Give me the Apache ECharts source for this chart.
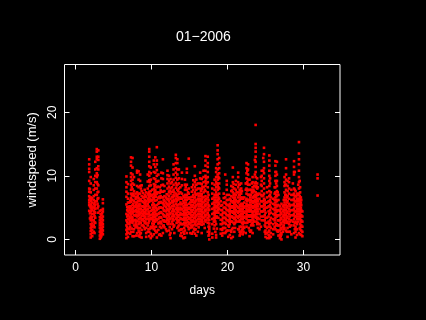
<!DOCTYPE html>
<html>
<head>
<meta charset="utf-8">
<script src="https://cdn.jsdelivr.net/npm/echarts@6/dist/echarts.min.js"></script>
<style>
html, body {margin: 0; padding: 0; background: #000;}
#echart1 {width: 426px; height: 320px;}
</style>
</head>
<body>
<div id="echart1"></div>
<script>
var xTicks = [0, 10, 20, 30];
var yTicks = [0, 10, 20];

// 每一列的日期，和该列读到的风速
var windDays = [1.8, 2, 2.2, 2.4, 2.6, 2.8, 3, 3.2, 3.4, 3.6,
    6.7, 6.9, 7.1, 7.3, 7.5, 7.7, 7.9, 8.1, 8.3, 8.5, 8.7, 8.9, 9.1, 9.3, 9.5, 9.7, 9.9,
    10.1, 10.3, 10.5, 10.7, 10.9, 11.1, 11.3, 11.5, 11.7, 11.9, 12.1, 12.3, 12.5, 12.7, 12.9,
    13.2, 13.4, 13.6, 13.8, 14, 14.2, 14.4, 14.65, 14.9, 15.1, 15.3, 15.5, 15.7, 15.9,
    16.1, 16.4, 16.6, 16.85, 17.1, 17.4, 17.6, 18, 18.3, 18.5, 18.7, 18.9, 19.1,
    19.3, 19.5, 19.7, 19.9, 20.1, 20.3, 20.5, 20.7, 20.9, 21.1, 21.4, 21.6, 21.8,
    22, 22.2, 22.5, 22.7, 22.9, 23.1, 23.3, 23.5, 23.7, 23.9, 24.2, 24.5, 24.8, 25,
    25.2, 25.5, 25.7, 26, 26.3, 26.5, 26.7, 26.9, 27.1, 27.3, 27.5, 27.7, 27.9, 28.1,
    28.4, 28.75, 28.95, 29.15, 29.4, 29.55, 29.7, 29.85, 31.85];
var windSpeeds = [
    [12.6, 11.8, 11.1, 10.6, 9.2, 8, 7.5, 6.8, 6.2, 5.8, 5.4, 4.5],
    [9.8, 8.8, 7.4, 6.6, 6, 5.5, 5, 4.4, 3.6, 3, 2.4, 1.8, 1.3, 0.8, 0.3],
    [6.5, 5.8, 5, 4.6, 4, 3.5, 3, 2.5, 2, 1.5, 1, 0.5],
    [9.5, 8.5, 7.8, 6.8, 6.2, 5.5, 5, 4.5, 4, 3, 2.2, 1.2],
    [12.2, 11, 10, 9, 8, 7, 6, 5.4, 4.8, 4.2, 3.4, 2.6],
    [14.2, 13.8, 13, 12.6, 11.2, 10.4, 9.8, 9, 8, 7, 6],
    [14, 13, 12.5, 11.5, 11, 8.5, 7.5, 6.5, 5.2, 4.2],
    [4.5, 3.5, 3, 2.6, 2.2, 1.8, 1.2, 0.6, 0.1],
    [4.6, 3.8, 3.2, 2.8, 2.2, 1.8, 1.2, 0.5],
    [6.3, 5.7, 4.8, 4.4, 3.6, 3, 2.4, 2, 1.4, 0.8],

    [9.9, 9, 8.2, 7.5, 6.7, 5.5, 4, 3, 2.2, 1.5, 0.8, 0.2],
    [8.7, 7.2, 6.4, 5.8, 5, 4.4, 3.8, 3.2, 2.5, 1.7, 1, 0.4],
    [5.8, 5.2, 4.6, 4.1, 3.6, 3, 2.4, 1.6],
    [12.9, 12.2, 11.6, 10.4, 9.8, 9.2, 8.6, 7.8, 7.2, 6.5, 5.9, 5.2, 4.4, 3.9, 2.8, 1.2],
    [12.8, 11.3, 10.2, 9.4, 8.8, 7.9, 7, 6.2, 5.4, 4.8, 4.1, 3.4, 2.6, 0.5],
    [9.8, 8.6, 7.6, 6.8, 6, 5.2, 4.5, 3.8, 3, 2.2, 1.6, 0.5],
    [7.2, 6.4, 5.8, 5.1, 4.4, 3.7, 3.1, 2.5, 1.9],
    [10.8, 10.5, 8.4, 7.4, 6.6, 5.8, 5, 4.3, 3.6, 2.9, 2, 1],
    [10.7, 9.4, 8.2, 7.2, 6.5, 5.5, 4.8, 4, 3.2, 2.4, 1.4, 0.6],
    [10.2, 9.2, 8.4, 7.2, 6.2, 5.5, 4.8, 4.1, 3.4, 2.6, 1.8, 0.9, 0.4],
    [8.5, 7.6, 6.8, 6, 5.2, 4.4, 3.7, 3, 2.2, 1.5, 0.3],
    [7.3, 6.6, 5.9, 5.2, 4.6, 4, 3.2, 2.2],
    [7.8, 7, 6.2, 5.5, 4.8, 4.1, 3.4, 2.6, 1.6],
    [7.4, 6.7, 6, 5.3, 4.6, 4, 3.2, 2.5, 1.8, 1, 0.4],
    [10.2, 9.1, 8, 7.2, 6.4, 5.6, 4.8, 4, 3.2, 2.2, 1.2],
    [14.2, 13.8, 13, 12.2, 11.5, 10.6, 10, 9.3, 8.4, 7.5, 6.7, 5.9, 4.2, 2.9, 1.2, 0.5],
    [11.3, 10.4, 9.4, 8.5, 7.6, 6.8, 6.1, 4.5, 3.4, 2, 0.9, 0.2],

    [7.8, 7, 6.2, 5.4, 4.6, 3.9, 3.2, 2.5, 1.8, 0.5],
    [12.4, 11.8, 10.6, 9.6, 8.7, 7.9, 7.1, 6.3, 5.5, 4.7, 3.9, 3.1, 2.4, 1.6, 0.8],
    [12.9, 11.4, 10.5, 9.5, 8.6, 7.8, 7, 6.1, 5.3, 4.4, 3.6, 2.8, 1.4],
    [14.5, 12.4, 11.8, 10.9, 10, 9.1, 8.2, 7.2, 6.2, 5.4, 4.6, 3.8, 3, 1.2, 0.3],
    [10.2, 9.2, 8.3, 7.4, 6.5, 5.6, 4.8, 4, 3.2, 2.5, 1.5],
    [8.2, 7.3, 6.5, 5.8, 5, 4.2, 3.5, 2.7, 2, 0.8],
    [10.5, 9.6, 8.5, 7.5, 6.6, 5.8, 5, 4.2, 3.4, 2.5, 1.8, 0.6],
    [12.6, 10.4, 9.5, 8.6, 7.5, 6.6, 5.7, 4.9, 4, 3, 2.1, 1],
    [8.4, 7.6, 6.8, 6, 5.3, 4.5, 3.6, 2.8, 1.9],
    [6.6, 5.8, 5.1, 4.4, 3.6, 2.8, 1.6],
    [10.8, 10.1, 9.5, 8.8, 8, 7.1, 6.4, 5.6, 4.8, 4, 3.3, 2.5],
    [10, 9.2, 8.3, 7.5, 6.8, 6, 5.2, 4.4, 3.6, 2.8, 1.4],
    [9.5, 8.8, 8, 7.2, 6.4, 5.7, 5, 4.1, 3.3, 2.4, 1, 0.2],
    [9, 8.2, 7.5, 6.7, 6, 5.2, 4.4, 3.6, 2.8, 1.6],
    [11.8, 11, 10.2, 9.4, 8.6, 7.8, 7, 6.2, 5.4, 4.6, 3.8, 3, 2],

    [13.3, 12.8, 12, 11.2, 10.5, 9.7, 8.9, 8.1, 7.2, 6.4, 5.6, 4.8, 4, 3.2],
    [12.6, 12, 11, 10.2, 9.4, 8.6, 7.8, 7, 6.2, 5.4, 4.6, 3.8, 3, 1.8],
    [11, 9.6, 8.8, 8, 7.2, 6.3, 5.5, 4.7, 3.8, 3, 2.2, 1.4],
    [8.2, 7.4, 6.6, 5.8, 5, 4.2, 3.4, 2.6, 1.5, 0.6],
    [10.5, 9.5, 8.5, 7.2, 6.4, 5.6, 4.8, 4, 3.2, 2.4, 1.6, 0.5],
    [6.8, 6, 5.2, 4.5, 3.8, 3.1, 2.4, 1.2, 0.2],
    [9.4, 8.6, 7.8, 7, 6.2, 5.4, 4.6, 3.8, 3, 2.2, 1.4, 0.3],
    [11.1, 10.5, 8.6, 7.8, 7, 6.2, 5.4, 4.6, 3.8, 3, 2.2, 1],
    [12.7, 8, 7.2, 6.4, 5.6, 4.8, 4, 3.2, 2.4, 1.6],
    [6.6, 5.8, 5, 4.2, 3.4, 2.6, 1.8, 1],
    [8.2, 7.5, 6.7, 5.9, 5.1, 4.3, 3.5, 2.7, 1.9, 0.9],
    [9.3, 8.6, 7.8, 7, 6.2, 5.4, 4.6, 3.8, 3, 2.2, 1.2],
    [11.5, 10, 9, 8.2, 7.4, 6.6, 5.8, 5, 4.2, 3.4, 2.4, 1.5, 0.9],
    [9.4, 8.6, 7.8, 7, 6.2, 5.4, 4.6, 3.8, 3, 2.2, 0.6],

    [8.8, 8, 7.2, 6.4, 5.6, 4.8, 4, 3.2, 2.4, 1.2],
    [10.5, 9.6, 8.8, 8, 7.2, 6.4, 5.6, 4.8, 4, 3.2, 2.4],
    [9.5, 8.7, 7.9, 7.1, 6.3, 5.5, 4.7, 3.9, 3.1, 2.3, 1],
    [10.8, 9.8, 9, 8.2, 7.4, 6.6, 5.8, 5, 4.2, 3.4, 2.4],
    [13.1, 12.4, 11.6, 10.8, 10, 9.2, 8.4, 7.6, 6.8, 6, 5.2, 4.4, 3.6, 2.8],
    [13, 12, 11.4, 10.6, 9.8, 9, 8.2, 7.4, 6.6, 5.8, 5, 4.2, 3.4, 2.6, 1.2],
    [5.2, 4.7, 3.6, 3.1, 2.5, 2, 1.6, 1.2, 0.8, 0],
    [8.8, 8, 7.2, 6.4, 5.6, 4.8, 4, 3.2, 2.4, 0.9, 0.3],
    [9.4, 8.6, 7.8, 7, 6.2, 5.4, 4.6, 3.8, 3, 2.2],
    [11.2, 10.6, 9.8, 9, 8.2, 7.4, 6.6, 5.8, 5, 4.2, 3.4, 2.4, 0.7, 0.3],
    [14.8, 14, 13.4, 12.6, 11.8, 11, 10.2, 9.4, 8.6, 7.8, 7, 6.2, 5.4, 4.6],
    [12.8, 12, 11.2, 10.4, 9.6, 8.8, 8, 7.2, 6.4, 5.6, 4.8],
    [6, 5.3, 4.6, 3.9, 3.1, 2.4, 1.6, 0.9],

    [5.4, 4.6, 3.8, 3, 2.4, 1.5, 0.6],
    [7.2, 6.5, 5.8, 5, 4.2, 3.4, 2.6, 1.8],
    [10.2, 6.6, 5.8, 5, 4.2, 3.4, 2.6, 1.8, 1],
    [9.2, 8.6, 7.8, 7, 6.2, 5.4, 4.6, 3.8, 3, 1.4],
    [6.2, 5.4, 4.6, 3.8, 3, 2.2, 1.4, 0.4],
    [6.4, 5.6, 4.8, 4, 3.2, 2.4, 0.7],
    [8.4, 7.6, 6.8, 6, 5.2, 4.4, 3.6, 2.8, 1.2, 0.2],
    [11.3, 9.8, 9, 8.2, 7.4, 6.6, 5.8, 5, 4.2, 3.4, 1.8, 0.4],
    [8, 7.2, 6.4, 5.6, 4.8, 4, 3.2, 2.4, 1.2],
    [9.2, 8.6, 7.8, 7, 6.2, 5.4, 4.6, 3.8, 3],
    [10.5, 9.8, 9, 8.2, 7.4, 6.6, 5.8, 5, 4.2, 3.4, 1.6],
    [8.6, 7.8, 7, 6.2, 5.4, 4.6, 3.8, 3, 2, 1.2, 0.6],
    [8.8, 8, 7.2, 6.4, 5.6, 4.8, 4, 3.2, 2, 1.2],

    [6.4, 5.6, 4.8, 4, 3.2, 2.4, 1.6, 0.8],
    [6.6, 5.8, 5, 4.2, 3.4, 2.6, 1.8],
    [12, 11.2, 10.4, 9.6, 8.8, 8, 7.2, 6.4, 5.6, 4.8, 4, 3.2, 2],
    [11.8, 11, 10.2, 9.4, 8.6, 7.8, 7, 6.2, 5.4, 4.6, 3.8, 3],
    [9.4, 8.6, 7.8, 7, 6.2, 5.4, 4.6, 3.8, 3, 1.4, 0.5],
    [7.8, 7, 6.2, 5.4, 4.6, 3.8, 3, 2.2, 1.4],
    [9.8, 9, 8.2, 7.4, 6.6, 5.8, 5, 4.2, 3.4, 2.6, 1],
    [8.4, 7.6, 6.8, 6, 5.2, 4.4, 3.6, 2.8],
    [18, 15, 14.4, 13.8, 13, 12.2, 11.4, 10.6, 9.8, 9, 8.2, 7.4, 6.6, 5.8, 5, 4.2, 3.4],
    [9.6, 8.8, 8, 7.2, 6.4, 5.6, 4.8, 4, 3.2, 2.4],
    [7.2, 6.4, 5.6, 4.8, 4, 3.2, 2.4, 1.6],
    [10.8, 10, 9.2, 8.4, 7.6, 6.8, 6, 5.2, 4.4, 3],
    [14.4, 13.4, 12.2, 11.2, 10.4, 9.6, 8.8, 8, 7.2, 6.4, 5.6, 4.8, 3],
    [5.8, 5, 4.2, 3.4, 2.6, 2, 1.4, 0.9, 0.4],

    [8.2, 7.4, 6.6, 5.8, 5, 3.4, 2.6, 1.8, 1, 0.2],
    [13.2, 12.4, 11.6, 10.8, 10, 9.2, 8.4, 7.6, 6.8, 6, 5.2, 4, 2.4, 1.4, 0.6, 0.2],
    [7.4, 6.6, 5.8, 5, 4.2, 3.4, 2.6, 1.8, 1, 0.4],
    [6.4, 5.6, 4.8, 4, 3.2, 2.4, 1.6, 0.8],
    [12.3, 11.6, 10.6, 10, 9.2, 8.2, 7.4, 6.6, 5.8, 5, 4.2, 3.4, 2.6, 1.6],
    [12.2, 10.2, 9.2, 8.4, 7.6, 6.8, 6, 5.2, 4.4, 3.6, 2.4, 1.4],
    [7, 6.2, 5.4, 4.6, 3.8, 3, 2.2, 1.4, 0.6],
    [5.2, 4.5, 3.8, 3, 2.2, 1.4, 0.7, 0.2],
    [5.6, 4.8, 4, 3.2, 2.4, 1.6, 0.8, 0],
    [5.2, 4.4, 3.6, 2.8, 2, 1.2],
    [9.8, 9, 8.4, 7.4, 6.6, 5.8, 5, 4.2, 3.4, 2.6, 1.8],
    [12.6, 11.2, 10.2, 9.4, 8.6, 7.8, 7, 6.2, 5.4, 4.6, 3.8, 3, 1.4],
    [9.2, 8.4, 7.6, 6.8, 6, 5.2, 4.4, 3.6, 2.8, 1.8, 0.4],
    [9.6, 9, 8, 7.2, 6.4, 5.6, 4.8, 4, 3.2, 2.4, 1.2],

    [7.8, 7, 6.2, 5.4, 4.6, 3.8, 3, 2.2, 0.8],
    [12.3, 11.4, 10.6, 10.2, 8, 7.2, 6.4, 5.6, 4.8, 4, 3.2, 2.2, 1],
    [7.6, 6.8, 6, 5.2, 4.4, 3.6, 2.8, 2, 1.2, 0.3],
    [7.2, 6.4, 5.6, 4.8, 4, 3.2, 2.4, 1.6, 0.7],
    [15.3, 13.5, 12.6, 11.8, 10.8, 9.8, 9, 8, 7.2, 6.4, 5.6, 4.8, 4, 3.2, 1],
    [8.2, 7.4, 6.4, 5.6, 4.8, 4, 3.2, 2.4, 1.6, 0.8],
    [6.2, 5.4, 4.6, 3.8, 3, 2.2, 1.4, 0.7],
    [4.4, 3.6, 2.8, 2, 1.2, 0.5],
    [10.2, 9.6, 6.9]
];

// 中间密集的部分，补读的点
var coreDays = [1.9, 2.1, 2.5, 2.9, 3.3, 3.5,
    6.8, 7.2, 7.4, 7.6, 8, 8.2, 8.4, 8.6, 9, 9.2, 9.6, 9.8,
    10.2, 10.4, 10.6, 11, 11.2, 11.6, 12, 12.2, 12.4, 12.8,
    13, 13.3, 13.5, 13.9, 14.3, 14.5, 14.8, 15.2, 15.6, 15.8,
    16.2, 16.5, 16.7, 17, 17.2, 17.5, 18.2, 18.4, 18.6, 18.8,
    19.4, 19.8, 20.2, 20.4, 20.6, 20.8, 21, 21.2, 21.5, 21.7, 21.9,
    22.1, 22.4, 22.6, 22.8, 23, 23.2, 23.4, 23.6, 23.8, 24, 24.4, 24.7, 24.9,
    25.4, 25.6, 26.2, 26.4, 26.6, 27, 27.4, 27.6, 27.8,
    28.2, 28.6, 28.85, 29.05, 29.3, 29.5, 29.65];
var coreSpeeds = [
    [7.9, 6.5, 5.2, 4.1, 3.3],
    [6.3, 5.2, 4.7, 3.3, 2.1, 1.5],
    [5.7, 5.1, 4.3, 3.7, 2.7, 1.9, 1],
    [10.1, 8.7, 7.4, 6.4, 5.6, 4.9],
    [4, 3.4, 2.4, 1.5, 0.9, 0.3],
    [4.1, 3.3, 2.6, 1.6, 1],

    [5.1, 4.6, 3.6, 2.7, 1.9, 1.2],
    [6.1, 4.9, 4.2, 3.4, 2.7, 2, 0.9],
    [8.2, 6.9, 6.2, 4.7, 3.5, 3.1, 1.7],
    [7.2, 5.6, 4.9, 4.3, 2.9, 1.2],
    [6.7, 5.4, 4.6, 3.9, 2.8, 2.3, 0.6],
    [6.9, 6.1, 5.2, 4.4, 3.7, 1.8],
    [6, 5.2, 4.4, 3.8, 2.8, 1.2, 0.5],
    [8, 6.3, 4.8, 4.1, 3.3, 2.6, 1],
    [6.6, 5.8, 5.1, 4.3, 3.7, 2.9, 2],
    [6.8, 5.7, 5, 4.3, 3.6, 2.8],
    [7, 6, 5.2, 4.4, 3.6, 2.6, 1.6],
    [9, 7.1, 6.3, 5, 3.8, 3.2, 1.7],

    [6.6, 5.8, 5, 4.2, 3.5, 2.9, 2.1],
    [8.3, 7.4, 6.7, 5.1, 4.3, 3.5, 2.8, 1.9],
    [9.1, 7.4, 6.7, 4.9, 4, 3.2, 2, 1.1],
    [6.7, 5.8, 5, 4.1, 3.4, 2.6, 0.7],
    [7.7, 6.8, 5.9, 5, 4.3, 3.5, 2.8],
    [6.2, 5.5, 4.6, 3.8, 3, 2.2],
    [7.1, 6.3, 5.5, 4.7, 3.9, 3.1, 1.3],
    [6.3, 5.4, 4.6, 3.8, 3, 2.4],
    [7.6, 5.6, 4.8, 4, 3.2, 1.9, 0.7],
    [6.6, 5.8, 4.8, 4, 3.2, 2.4],

    [7.4, 6.8, 6, 5.2, 4.4, 3.6, 2.2, 1],
    [8.5, 6.8, 6, 5, 4.2, 3.4, 2.6],
    [7.6, 6.6, 5, 4.3, 3.5, 2.7, 2],
    [6.4, 5.5, 4.7, 3.9, 3.2, 2.4, 1.6, 1],
    [6.6, 5.7, 5, 4.2, 3.4, 2.6, 1.8, 0.9],
    [8.2, 6.6, 5.8, 5, 4.2, 3.4, 2.6],
    [7.4, 6.6, 5, 4.3, 3.5, 2.7, 2],
    [6.2, 5.4, 4.6, 3.8, 3, 2.2],
    [6.6, 5.8, 5, 4.1, 3.4, 2.8, 1.7],
    [7.1, 6, 5.2, 4.4, 3.6, 2.7, 1.6],

    [6.8, 6, 5.2, 4.4, 3.6, 2.8, 1.9],
    [7.6, 6.8, 6, 5.2, 4.4, 3.6, 2.8],
    [8.3, 6.7, 5.9, 5.1, 4.3, 3.5, 2.7],
    [7.8, 6.2, 5.4, 4.6, 3.8, 3, 1.8],
    [9.6, 8.8, 6.4, 5.5, 4.7, 3.9, 3.1],
    [7, 6.2, 5.4, 4.6, 3.8, 3, 2, 0.6],
    [6.6, 5.8, 5, 4.2, 3.4, 2.8, 1.7],
    [7, 6.2, 5.2, 4.4, 3.6, 2.8, 1.2],
    [8.8, 7, 6, 5.2, 4.4, 3.6, 1.7],
    [9.8, 8.2, 6.6, 5.8, 5, 4.2, 3.4],

    [4.2, 3.4, 2.6, 1.8, 1],
    [5.6, 4.8, 4, 3.2, 2.4, 1.2],
    [7, 5.2, 4.4, 3.6, 2.8, 2],
    [6.2, 5, 4.4, 3.6, 2.8, 1.4],
    [7.7, 6, 5.2, 4.4, 3.6, 2.8, 1.6],
    [8.7, 7, 6, 5.2, 4.4, 3.4, 2.6],
    [6.6, 5.8, 5, 4.2, 3.4, 2.6, 1.8],
    [7.4, 6, 5.2, 4.4, 3.6, 2.8],
    [8.6, 7, 6, 5, 4.4, 3.6, 2.8, 1.6],
    [7.4, 6.6, 5.2, 4.4, 3.6, 2.8, 0.9],
    [7.6, 6.6, 5.2, 4.4, 3.6, 2.6, 1.5],

    [5.2, 4.4, 3.6, 2.8, 2, 1.2],
    [8.8, 7.8, 6.2, 5.2, 4.4, 3.6, 2.6, 1],
    [10.8, 9, 7.7, 6, 5.2, 4.4, 3.6, 2.6],
    [7, 6.2, 5, 4.4, 3.6, 2.8, 1.8],
    [6.6, 5.8, 5, 4.4, 3.6, 2.8, 1.2],
    [8.8, 7.4, 6, 5.2, 4.4, 3.6, 2.4],
    [7.8, 6.6, 5.8, 5, 3.8, 3, 2.2],
    [12.5, 10.2, 8.8, 7, 6.2, 5.4, 4.6, 3.8],
    [8.4, 6.9, 6, 5.2, 4.4, 3.6, 2.8],
    [8.2, 7, 6, 5.2, 4.4, 3.4, 2.6, 1.8],
    [9.8, 8.6, 7, 6, 5.2, 4.4, 3.6, 2],
    [12.8, 10.8, 6.9, 6, 5.2, 4.4, 3.6],
    [6.2, 5.4, 4.6, 3.8, 3, 2.2, 1.2],

    [6, 5.2, 4.4, 3.6, 2.8, 2, 1.2, 0.7],
    [9.6, 8.8, 7, 6.2, 5.4, 4.6, 3, 2],
    [8.2, 7.2, 6.2, 5.4, 4.6, 3.8, 3, 2],
    [10.6, 8.8, 7, 6.2, 5.4, 4.6, 3.8, 2.2],
    [7.4, 5.4, 4.6, 3.8, 3, 2.2, 1.2],
    [4.8, 4.2, 3.4, 2.6, 1.8, 1, 0.5],
    [6.2, 5.4, 4.6, 3.8, 3, 2.2, 1.6],
    [8.6, 7, 6.2, 5.4, 4.6, 3.8, 3],
    [6.6, 5.8, 5, 4.2, 3.4, 2.6, 1.2],

    [5.2, 4.4, 3.6, 2.8, 2, 1.2],
    [8.8, 7, 6.2, 5.4, 4.6, 3.8, 2.8],
    [10.6, 7.8, 6.8, 6, 5.2, 4.4, 3.6, 2.6, 1.6],
    [6.8, 6, 5.2, 4.4, 3.6, 2.6, 1.6],
    [8.6, 7, 6, 5.2, 4.4, 3.6, 2.8],
    [9.2, 6.8, 6, 5.2, 4.4, 3.6, 1.8],
    [6.6, 5.8, 5, 4.4, 3.6, 2.8, 2]
];

var wind = [];
function addColumns(days, speeds) {
    for (var i = 0; i < days.length; i++) {
        for (var j = 0; j < speeds[i].length; j++) {
            wind.push([days[i], speeds[i][j]]);
        }
    }
}
addColumns(windDays, windSpeeds);
addColumns(coreDays, coreSpeeds);

function tickAxis(position, ticks, min, max) {
    return {
        type: 'value',
        position: position,
        min: min,
        max: max,
        splitLine: {show: false},
        axisLine: {show: false, onZero: false},
        axisTick: {show: true, inside: true, length: 5, customValues: ticks, lineStyle: {color: '#fff', width: 1}},
        axisLabel: {show: false}
    };
}

function echart1() {
    var mychart = echarts.init(document.getElementById('echart1'));
    var font = 'Liberation Sans';
    var xBottom = tickAxis('bottom', xTicks, -1.45, 34.8);
    xBottom.name = 'days';
    xBottom.nameLocation = 'middle';
    xBottom.nameGap = 30;
    xBottom.nameTextStyle = {color: '#fff', fontFamily: font, fontSize: 12};
    xBottom.axisLabel = {show: true, color: '#fff', fontFamily: font, fontSize: 12, margin: 7, customValues: xTicks};

    var yLeft = tickAxis('left', yTicks, -2.45, 27.5);
    yLeft.name = 'windspeed (m/s)';
    yLeft.nameLocation = 'middle';
    yLeft.nameRotate = 90;
    yLeft.nameGap = 21;
    yLeft.nameTextStyle = {color: '#fff', fontFamily: font, fontSize: 13};
    yLeft.axisLabel = {show: true, color: '#fff', fontFamily: font, fontSize: 12, rotate: 90, margin: 6, customValues: yTicks};

    var option = {
        backgroundColor: '#000',
        animation: false,
        title: {
            text: '01\u22122006',
            left: 171,
            top: 25,
            textStyle: {color: '#fff', fontFamily: font, fontSize: 14, fontWeight: 'normal'}
        },
        grid: {
            left: 64.5,
            right: 86,
            top: 64.5,
            bottom: 65,
            show: true,
            backgroundColor: 'transparent',
            borderColor: '#fff',
            borderWidth: 1
        },
        xAxis: [xBottom, tickAxis('top', xTicks, -1.45, 34.8)],
        yAxis: [yLeft, tickAxis('right', yTicks, -2.45, 27.5)],
        series: [
            {
                type: 'scatter',
                symbol: 'rect',
                symbolSize: 2.6,
                itemStyle: {color: '#ff0000', opacity: 1},
                data: wind
            }
        ]
    };
    mychart.setOption(option);
}

echart1();
</script>
</body>
</html>
